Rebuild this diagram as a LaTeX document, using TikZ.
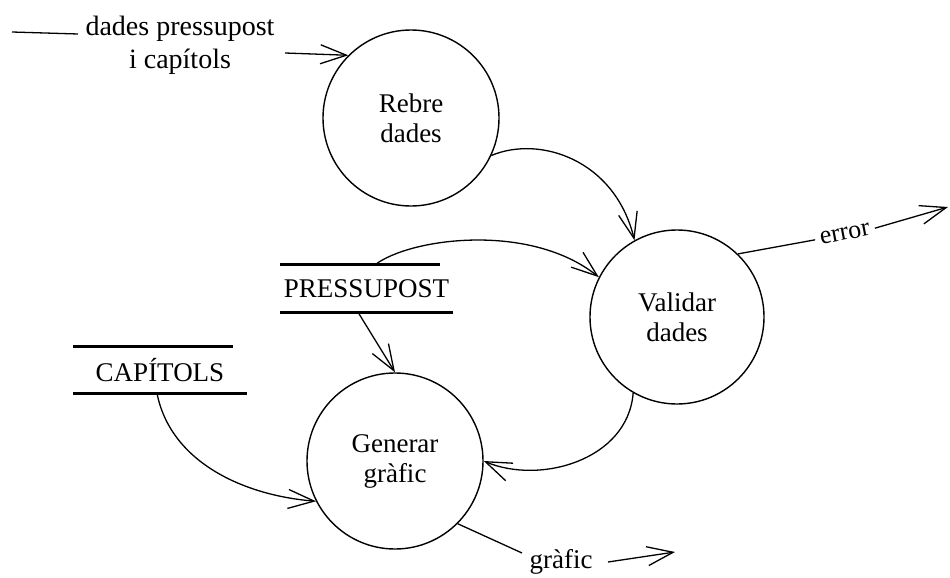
\documentclass[tikz,border=0pt]{standalone}
\usepackage{fontspec}
\setmainfont{Liberation Serif}
\usetikzlibrary{arrows.meta}
\begin{document}
\begin{tikzpicture}[x=1pt,y=-1pt,
  font=\fontsize{27}{30}\selectfont,
  process/.style={circle,draw,line width=1.4pt,minimum size=176pt,inner sep=0pt,align=center},
  store/.style={minimum height=47pt,inner sep=0pt},
  storeline/.style={line width=3.2pt},
  flow/.style={line width=1.3pt,-{Straight Barb[length=26pt,width=19pt]}},
  plain/.style={line width=1.3pt},
  flowlabel/.style={inner sep=0pt,align=center}
]
\fill[white] (0,0) rectangle (950,578);
\useasboundingbox (0,0) rectangle (950,578);

% processes
\node[process] (rebre) at (411,118) {Rebre\\dades};
\node[process,minimum size=174pt] (validar) at (677,317) {Validar\\dades};
\node[process] (generar) at (395,461) {Generar\\gràfic};

% data stores
\node[store,minimum width=173pt] (pres) at (366.5,288.5) {PRESSUPOST};
\draw[storeline] (pres.north west) -- ([xshift=-13pt]pres.north east);
\draw[storeline] (pres.south west) -- (pres.south east);

\node[store,minimum width=174pt,minimum height=46pt] (cap) at (160,370) {CAPÍTOLS};
\draw[storeline] (cap.north west) -- ([xshift=-14pt]cap.north east);
\draw[storeline] (cap.south west) -- (cap.south east);

% incoming data
\coordinate (dashA) at (12,32);
\coordinate (dashB) at (78,34);
\draw[plain] (dashA) -- (dashB);
\node[flowlabel,font=\fontsize{28}{33}\selectfont] (inlabel) at (180,45) {dades pressupost\\i capítols};
\coordinate (insrc) at (285,53);
\draw[flow] (insrc) -- (rebre.135);

% internal flows
\draw[flow] (rebre.-25) .. controls (540,135) and (615,160) .. (validar.119);
\draw[flow] ([xshift=8.5pt]pres.north) .. controls (410,238) and (530,222) .. (validar.153);
\draw[flow] ([xshift=-8.5pt]pres.south) -- (generar.90);
\draw[flow] (validar.240) .. controls (628,460) and (540,485) .. (generar.0);
\draw[flow] ([xshift=-3pt]cap.south) .. controls (170,460) and (240,495) .. (generar.207);

% error output
\node[flowlabel,rotate=11,inner xsep=5pt,font=\fontsize{26}{30}\selectfont] (errlabel) at (845,234) {error};
\coordinate (errtip) at (948,207);
\draw[plain] (validar.46) -- (errlabel.west);
\draw[flow] (errlabel.east) -- (errtip);

% chart output
\node[flowlabel,anchor=base] (grafic) at (561,568) {gràfic};
\coordinate (gA) at (522,553);
\coordinate (gB) at (608,562);
\coordinate (gC) at (675,552);
\draw[plain] (generar.-45) -- (gA);
\draw[flow] (gB) -- (gC);
\end{tikzpicture}
\end{document}
